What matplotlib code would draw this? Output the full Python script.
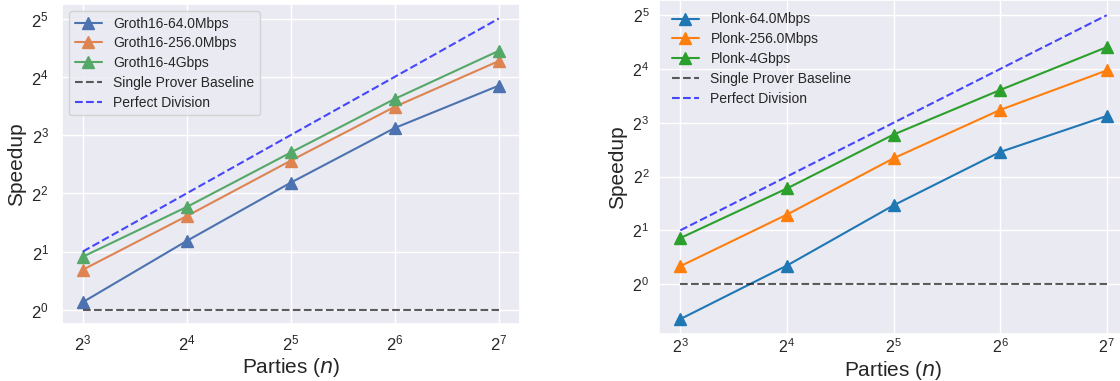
import numpy as np
import matplotlib
matplotlib.use("Agg")
import matplotlib.pyplot as plt
import seaborn as sns

# --- data ---
parties = [8, 16, 32, 64, 128]

groth_labels = ["Groth16-64.0Mbps", "Groth16-256.0Mbps", "Groth16-4Gbps"]
groth_64 = [1.095, 2.27, 4.54, 8.7, 14.4]
groth_256 = [1.61, 3.05, 5.9, 11.2, 19.3]
groth_4g = [1.88, 3.40, 6.5, 12.3, 21.8]

plonk_labels = ["Plonk-64.0Mbps", "Plonk-256.0Mbps", "Plonk-4Gbps"]
plonk_64 = [0.637, 1.27, 2.76, 5.49, 8.73]
plonk_256 = [1.26, 2.45, 5.06, 9.44, 15.7]
plonk_4g = [1.81, 3.43, 6.87, 12.2, 21.2]

baseline = [1, 1, 1, 1, 1]
perfect = [p / 4 for p in parties]

sns.set_theme(style="darkgrid")
plt.rcParams["font.family"] = ["Liberation Sans", "DejaVu Sans"]

fig = plt.figure(figsize=(11.2, 3.81), dpi=100)
ax_l = fig.add_axes([0.0554, 0.1488, 0.4085, 0.8407])
ax_r = fig.add_axes([0.5884, 0.1226, 0.4188, 0.8774])


def draw(ax, series, labels, colors, frame, tsize, xpad, ypad):
    for ys, lbl, c in zip(series, labels, colors):
        ax.plot(parties, ys, marker="^", markersize=8, lw=1.5, color=c, label=lbl)
    ax.plot(parties, baseline, ls="--", color="k", alpha=0.7, lw=1.5,
            label="Single Prover Baseline")
    ax.plot(parties, perfect, ls="--", color="blue", alpha=0.7, lw=1.5,
            label="Perfect Division")
    ax.set_xscale("log", base=2)
    ax.set_yscale("log", base=2)
    ax.tick_params(labelsize=tsize, length=0)
    ax.tick_params(axis="x", pad=xpad)
    ax.tick_params(axis="y", pad=ypad)
    ax.set_xlabel("Parties ($n$)", fontsize=15, labelpad=2)
    ax.set_ylabel("Speedup", fontsize=15, labelpad=4)
    ax.legend(loc="upper left", fontsize=10, labelspacing=0.42, frameon=frame)


draw(ax_l, [groth_64, groth_256, groth_4g], groth_labels,
     ["#4C72B0", "#DD8452", "#55A868"], True, 12, 6.5, 9.5)
draw(ax_r, [plonk_64, plonk_256, plonk_4g], plonk_labels,
     ["#1f77b4", "#ff7f0e", "#2ca02c"], False, 11.5, 2, 7)

fig.savefig("out.png", dpi=100)
